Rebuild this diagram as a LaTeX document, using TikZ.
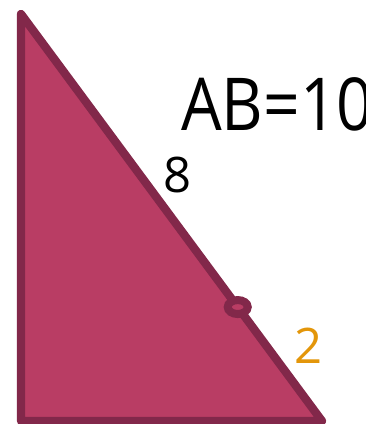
\documentclass[tikz,border=0pt]{standalone}
\usepackage{fontspec}
\setmainfont{Open Sans}
\usetikzlibrary{shapes.geometric,calc}
\definecolor{triFill}{RGB}{185,61,100}
\definecolor{triLine}{RGB}{130,40,74}
\definecolor{lblOrange}{RGB}{227,150,10}
\tikzset{
  edgeline/.style={draw=triLine, line width=8.3pt, line join=round},
  lbl/.style={inner sep=0pt, anchor=base},
}
\begin{document}
\begin{tikzpicture}[x=1pt,y=-1pt]
\useasboundingbox (0,0) rectangle (366,424);
\coordinate (T) at (21,14);
\coordinate (L) at (21,421);
\coordinate (R) at (322,421);
\path[edgeline, fill=triFill] (T) -- (L) -- (R) -- cycle;
\node[ellipse, draw=triLine, fill=triFill, line width=8pt, minimum width=20pt, minimum height=14pt, inner sep=0pt] (M) at ($(T)!0.72!(R)$) {};
\node[lbl, anchor=base west, font=\fontsize{73}{73}\selectfont] (ab) at (181,130) {\scalebox{0.88}[1]{AB=10}};
\node[lbl, font=\fontsize{49}{49}\selectfont] (eight) at (177.5,192) {8};
\node[lbl, font=\fontsize{49}{49}\selectfont, text=lblOrange] (two) at (309,363) {2};
\end{tikzpicture}
\end{document}
